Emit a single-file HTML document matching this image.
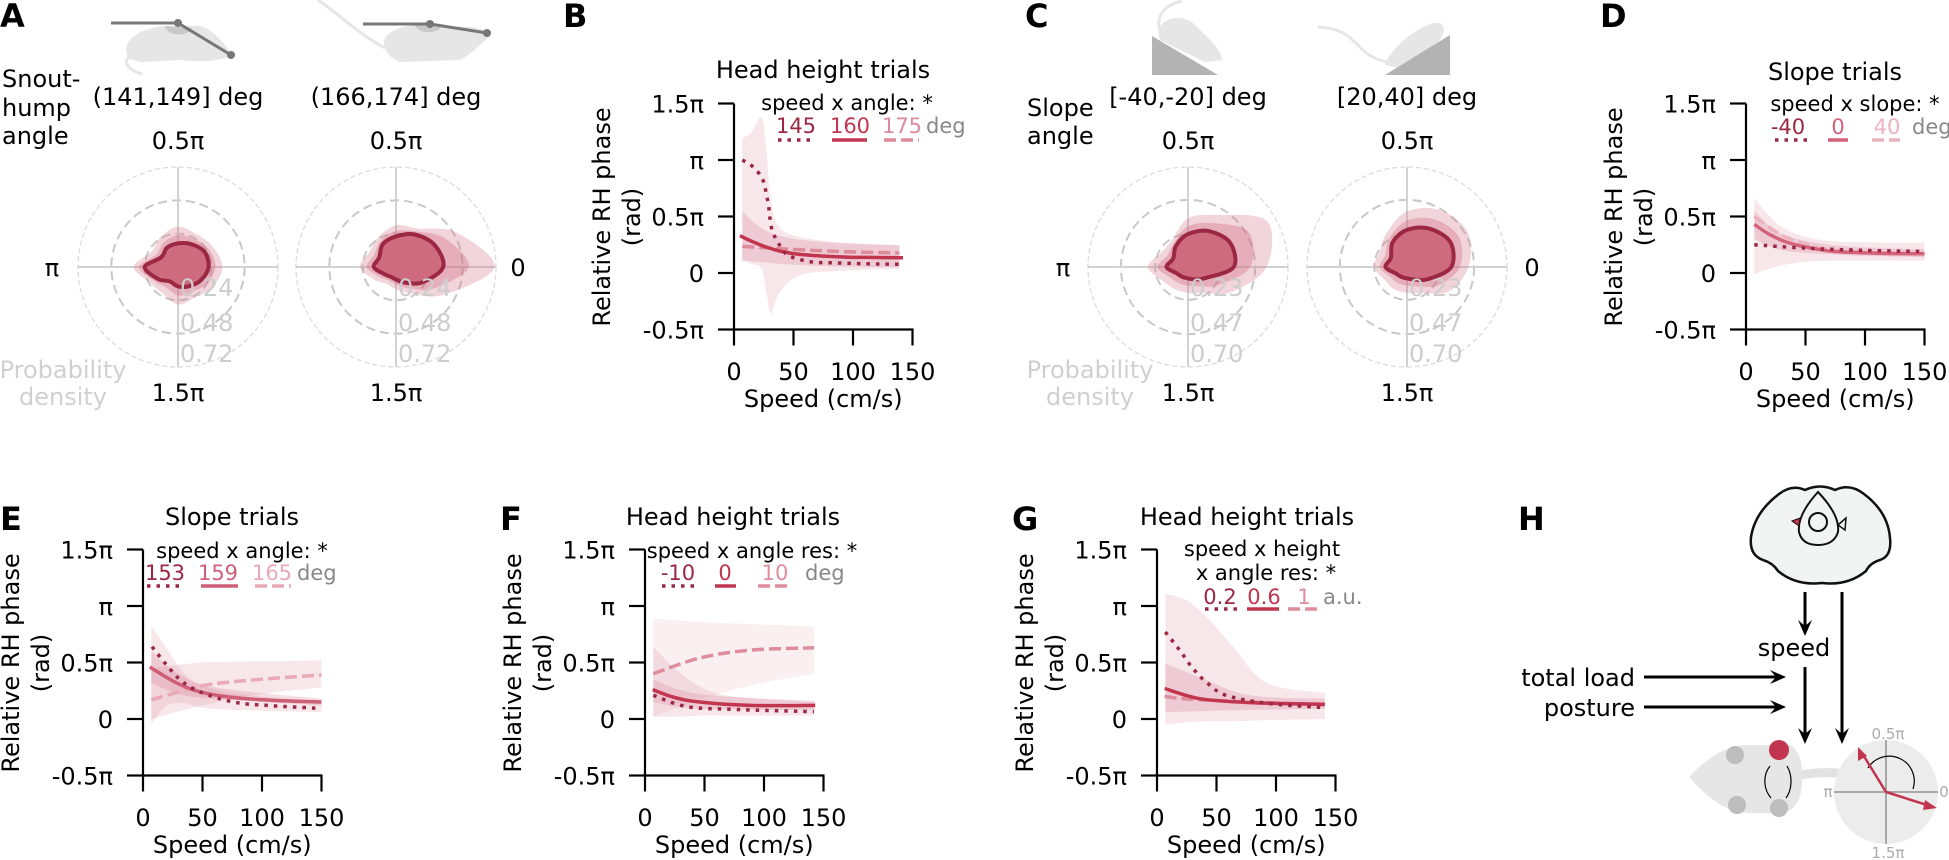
<!DOCTYPE html>
<html><head><meta charset="utf-8"><title>Figure</title>
<style>
html,body{margin:0;padding:0;background:#fff;}
svg{display:block;}
text{font-family:"DejaVu Sans","Liberation Sans",sans-serif;}
.lt{font-size:32px;font-weight:bold;}
.t24{font-size:24px;}
.t20{font-size:21px;}
</style></head>
<body>
<svg id="fig" width="1949" height="860" viewBox="0 0 1949 860">
<!-- panel letters -->
<text class="lt" x="0" y="27">A</text>
<text class="lt" x="563" y="27">B</text>
<text class="lt" x="1025" y="27">C</text>
<text class="lt" x="1600" y="27">D</text>
<text class="lt" x="0" y="530">E</text>
<text class="lt" x="500" y="530">F</text>
<text class="lt" x="1012" y="530">G</text>
<text class="lt" x="1518" y="530">H</text>

<!-- Panel A header -->
<g>
<path d="M128,58 C120,40 140,28 165,26 L200,26 C215,30 225,45 232,55 C220,62 200,62 180,60 L140,62 Z" fill="#e6e6e6"/>
<path d="M130,56 C122,62 128,70 142,74" stroke="#e6e6e6" stroke-width="3" fill="none"/>
<path d="M165,26 A14,10 0 0 0 192,28 Z" fill="#c8c8c8"/>
<polyline points="111,23 178,23 231,55" fill="none" stroke="#777" stroke-width="3"/>
<circle cx="178" cy="23" r="4" fill="#777"/>
<circle cx="231" cy="55" r="4" fill="#777"/>
<path d="M318,0 C340,15 360,35 385,48" stroke="#e6e6e6" stroke-width="3" fill="none"/>
<path d="M385,48 C380,35 395,27 415,25 L470,27 C480,28 490,32 490,36 C480,45 470,55 460,60 L400,62 C390,58 387,53 385,48 Z" fill="#e6e6e6"/>
<path d="M415,25 A14,9 0 0 0 442,26 Z" fill="#c8c8c8"/>
<polyline points="363,24 430,24 487,33" fill="none" stroke="#777" stroke-width="3"/>
<circle cx="430" cy="24" r="4" fill="#777"/>
<circle cx="487" cy="33" r="4" fill="#777"/>
<text class="t24" x="2" y="87">Snout-</text>
<text class="t24" x="2" y="116">hump</text>
<text class="t24" x="2" y="144">angle</text>
<text class="t24" x="178" y="105" text-anchor="middle">(141,149] deg</text>
<text class="t24" x="396" y="105" text-anchor="middle">(166,174] deg</text>
<text class="t24" x="63" y="378" text-anchor="middle" fill="#d0d0d0">Probability</text>
<text class="t24" x="63" y="405" text-anchor="middle" fill="#d0d0d0">density</text>
<text class="t24" x="52" y="276" text-anchor="middle">π</text>
<text class="t24" x="518" y="276" text-anchor="middle">0</text>
</g>

<!-- Panel C header -->
<g>
<path d="M1158,30 C1165,15 1185,15 1195,25 C1210,40 1222,50 1222,60 L1205,62 C1190,55 1170,45 1160,40 Z" fill="#e6e6e6"/>
<path d="M1160,32 C1155,15 1165,5 1182,1" stroke="#e6e6e6" stroke-width="3" fill="none"/>
<polygon points="1152,36 1152,75 1218,75" fill="#b3b3b3"/>
<path d="M1385,65 C1390,50 1410,32 1430,24 C1440,20 1446,25 1443,33 C1440,45 1425,55 1400,68 Z" fill="#e6e6e6"/>
<path d="M1318,27 C1345,28 1352,40 1365,52 C1375,60 1385,62 1392,63" stroke="#e6e6e6" stroke-width="3" fill="none"/>
<polygon points="1385,75 1450,75 1450,35" fill="#b3b3b3"/>
<text class="t24" x="1027" y="116">Slope</text>
<text class="t24" x="1027" y="144">angle</text>
<text class="t24" x="1188" y="105" text-anchor="middle">[-40,-20] deg</text>
<text class="t24" x="1407" y="105" text-anchor="middle">[20,40] deg</text>
<text class="t24" x="1090" y="378" text-anchor="middle" fill="#d0d0d0">Probability</text>
<text class="t24" x="1090" y="405" text-anchor="middle" fill="#d0d0d0">density</text>
<text class="t24" x="1063" y="276" text-anchor="middle">π</text>
<text class="t24" x="1532" y="276" text-anchor="middle">0</text>
</g>

<!-- Line chart titles & legends -->
<g>
<text class="t24" x="823" y="78" text-anchor="middle">Head height trials</text>
<text class="t20" x="847" y="110" text-anchor="middle">speed x angle: *</text>
<text class="t20" x="796" y="133" text-anchor="middle" fill="#9b2743">145</text>
<text class="t20" x="850" y="133" text-anchor="middle" fill="#c1354f">160</text>
<text class="t20" x="902" y="133" text-anchor="middle" fill="#dd8a9a">175</text>
<text class="t20" x="926" y="133" fill="#888">deg</text>
<line x1="778" y1="140" x2="816" y2="140" stroke="#9b2743" stroke-width="3.5" stroke-dasharray="3.5,6"/>
<line x1="832" y1="140" x2="867" y2="140" stroke="#c1354f" stroke-width="3.5"/>
<line x1="884" y1="140" x2="919" y2="140" stroke="#dd8a9a" stroke-width="3.5" stroke-dasharray="12,5"/>
</g>
<g>
<text class="t24" x="1835" y="80" text-anchor="middle">Slope trials</text>
<text class="t20" x="1855" y="111" text-anchor="middle">speed x slope: *</text>
<text class="t20" x="1788" y="134" text-anchor="middle" fill="#9b2743">-40</text>
<text class="t20" x="1838" y="134" text-anchor="middle" fill="#d4637a">0</text>
<text class="t20" x="1887" y="134" text-anchor="middle" fill="#ecb3be">40</text>
<text class="t20" x="1912" y="134" fill="#888">deg</text>
<line x1="1775" y1="140" x2="1808" y2="140" stroke="#9b2743" stroke-width="3.5" stroke-dasharray="3.5,6"/>
<line x1="1828" y1="140" x2="1848" y2="140" stroke="#d4637a" stroke-width="3.5"/>
<line x1="1872" y1="140" x2="1900" y2="140" stroke="#ecb3be" stroke-width="3.5" stroke-dasharray="12,5"/>
</g>
<g>
<text class="t24" x="232" y="525" text-anchor="middle">Slope trials</text>
<text class="t20" x="242" y="558" text-anchor="middle">speed x angle: *</text>
<text class="t20" x="165" y="580" text-anchor="middle" fill="#9b2743">153</text>
<text class="t20" x="218" y="580" text-anchor="middle" fill="#cf5f77">159</text>
<text class="t20" x="272" y="580" text-anchor="middle" fill="#e9aab6">165</text>
<text class="t20" x="297" y="580" fill="#888">deg</text>
<line x1="147" y1="586" x2="184" y2="586" stroke="#9b2743" stroke-width="3.5" stroke-dasharray="3.5,6"/>
<line x1="201" y1="586" x2="238" y2="586" stroke="#cf5f77" stroke-width="3.5"/>
<line x1="255" y1="586" x2="291" y2="586" stroke="#e9aab6" stroke-width="3.5" stroke-dasharray="12,5"/>
</g>
<g>
<text class="t24" x="733" y="525" text-anchor="middle">Head height trials</text>
<text class="t20" x="752" y="558" text-anchor="middle">speed x angle res: *</text>
<text class="t20" x="678" y="580" text-anchor="middle" fill="#9b2743">-10</text>
<text class="t20" x="725" y="580" text-anchor="middle" fill="#c1354f">0</text>
<text class="t20" x="775" y="580" text-anchor="middle" fill="#df8d9c">10</text>
<text class="t20" x="805" y="580" fill="#888">deg</text>
<line x1="662" y1="586" x2="697" y2="586" stroke="#9b2743" stroke-width="3.5" stroke-dasharray="3.5,6"/>
<line x1="715" y1="586" x2="736" y2="586" stroke="#c1354f" stroke-width="3.5"/>
<line x1="758" y1="586" x2="790" y2="586" stroke="#df8d9c" stroke-width="3.5" stroke-dasharray="12,5"/>
</g>
<g>
<text class="t24" x="1247" y="525" text-anchor="middle">Head height trials</text>
<text class="t20" x="1262" y="556" text-anchor="middle">speed x height</text>
<text class="t20" x="1266" y="580" text-anchor="middle">x angle res: *</text>
<text class="t20" x="1220" y="604" text-anchor="middle" fill="#9b2743">0.2</text>
<text class="t20" x="1264" y="604" text-anchor="middle" fill="#c1354f">0.6</text>
<text class="t20" x="1304" y="604" text-anchor="middle" fill="#df8d9c">1</text>
<text class="t20" x="1323" y="604" fill="#888">a.u.</text>
<line x1="1205" y1="609" x2="1240" y2="609" stroke="#9b2743" stroke-width="3.5" stroke-dasharray="3.5,6"/>
<line x1="1247" y1="609" x2="1279" y2="609" stroke="#c1354f" stroke-width="3.5"/>
<line x1="1288" y1="609" x2="1317" y2="609" stroke="#df8d9c" stroke-width="3.5" stroke-dasharray="12,5"/>
</g>

<!-- Panel H schematic -->
<g>
<path d="M1805,490 Q1820,483 1835,490 Q1850,483 1864,494 Q1888,512 1890,538 Q1892,556 1880,560 Q1870,563 1866,571 Q1848,586 1822,583 Q1796,586 1778,571 Q1773,563 1763,560 Q1749,555 1751,537 Q1755,512 1779,494 Q1792,484 1805,490 Z" fill="#f2f4f3" stroke="#111" stroke-width="2.5"/>
<path d="M1818,492 Q1840,515 1838,532 Q1834,545 1818,545 Q1802,545 1799,532 Q1797,515 1818,492 Z" fill="none" stroke="#111" stroke-width="2"/>
<ellipse cx="1818" cy="522" rx="9" ry="9" fill="none" stroke="#111" stroke-width="2"/>
<path d="M1792,521 L1800,518 L1799,526 Z" fill="#c1354f" stroke="#111" stroke-width="1"/>
<path d="M1846,518 L1838,525 L1845,530 Z" fill="none" stroke="#111" stroke-width="1.5"/>
<line x1="1805" y1="592" x2="1805" y2="630" stroke="#000" stroke-width="3"/>
<path d="M1798,620 L1805,636 L1812,620 L1805,626 Z" fill="#000"/>
<text class="t24" x="1794" y="656" text-anchor="middle">speed</text>
<line x1="1805" y1="667" x2="1805" y2="738" stroke="#000" stroke-width="3"/>
<path d="M1798,728 L1805,744 L1812,728 L1805,734 Z" fill="#000"/>
<line x1="1842" y1="592" x2="1842" y2="738" stroke="#000" stroke-width="3"/>
<path d="M1835,728 L1842,744 L1849,728 L1842,734 Z" fill="#000"/>
<text class="t24" x="1635" y="686" text-anchor="end">total load</text>
<line x1="1644" y1="677" x2="1780" y2="677" stroke="#000" stroke-width="3"/>
<path d="M1770,670 L1786,677 L1770,684 L1776,677 Z" fill="#000"/>
<text class="t24" x="1635" y="716" text-anchor="end">posture</text>
<line x1="1644" y1="707" x2="1780" y2="707" stroke="#000" stroke-width="3"/>
<path d="M1770,700 L1786,707 L1770,714 L1776,707 Z" fill="#000"/>
<path d="M1800,775 C1830,770 1860,772 1884,790" stroke="#e2e2e2" stroke-width="9" fill="none"/>
<path d="M1689,777 C1705,760 1722,747 1745,745 L1790,745 C1800,750 1803,765 1802,780 C1802,800 1795,812 1780,813 L1745,813 C1722,810 1705,795 1689,777 Z" fill="#e6e6e6"/>
<circle cx="1735" cy="755" r="9" fill="#bdbdbd"/>
<circle cx="1737" cy="805" r="9" fill="#bdbdbd"/>
<circle cx="1779" cy="808" r="9" fill="#bdbdbd"/>
<circle cx="1779" cy="750" r="10" fill="#c1354f"/>
<path d="M1770,766 C1762,776 1764,790 1771,798" stroke="#000" stroke-width="1.2" fill="none"/>
<path d="M1787,766 C1793,776 1792,790 1786,798" stroke="#000" stroke-width="1.2" fill="none"/>
<circle cx="1886" cy="792" r="52" fill="#ececec"/>
<line x1="1834" y1="792" x2="1938" y2="792" stroke="#a8a8a8" stroke-width="2"/>
<line x1="1886" y1="740" x2="1886" y2="844" stroke="#a8a8a8" stroke-width="2"/>
<text x="1888" y="739" font-size="15" text-anchor="middle" fill="#aaa">0.5π</text>
<text x="1888" y="858" font-size="15" text-anchor="middle" fill="#aaa">1.5π</text>
<text x="1828" y="797" font-size="15" text-anchor="middle" fill="#aaa">π</text>
<text x="1944" y="797" font-size="15" text-anchor="middle" fill="#aaa">0</text>
<path d="M1868,768 A25,25 0 0 1 1913,789" stroke="#000" stroke-width="1.2" fill="none"/>
<line x1="1886" y1="792" x2="1862" y2="753" stroke="#c1354f" stroke-width="2.5"/>
<path d="M1858,747 L1858,761 L1867,756 Z" fill="#c1354f"/>
<line x1="1886" y1="792" x2="1930" y2="806" stroke="#c1354f" stroke-width="2.5"/>
<path d="M1937,808 L1925,800 L1923,810 Z" fill="#c1354f"/>
</g>
<g id="plots"></g>
</svg>

<script>
// ---------- Data: polar densities (12 angles, radians step 30 deg) ----------
const polarAngles = [0,30,60,90,120,150,180,210,240,270,300,330];
const a1Contour = [0.22,0.22,0.19,0.17,0.16,0.14,0.24,0.17,0.12,0.14,0.16,0.19];
const a1Haze    = [0.32,0.29,0.27,0.29,0.25,0.22,0.32,0.23,0.22,0.27,0.25,0.29];
const a2Contour = [0.34,0.32,0.27,0.22,0.19,0.14,0.16,0.10,0.08,0.09,0.13,0.22];
const a2Haze    = [0.71,0.50,0.32,0.30,0.25,0.22,0.26,0.18,0.14,0.16,0.22,0.40];
const c1Contour = [0.32,0.34,0.29,0.23,0.17,0.12,0.15,0.09,0.08,0.08,0.10,0.15];
const c1Haze    = [0.55,0.64,0.42,0.34,0.22,0.21,0.28,0.20,0.18,0.18,0.21,0.35];
const c2Contour = [0.31,0.35,0.31,0.26,0.20,0.13,0.15,0.09,0.08,0.08,0.10,0.17];
const c2Haze    = [0.43,0.49,0.46,0.39,0.28,0.22,0.23,0.18,0.18,0.18,0.21,0.34];
const aRadTicks = [0.24,0.48,0.72];
const cRadTicks = [0.23,0.47,0.70];
const aRadLabels = ['0.24','0.48','0.72'];
const cRadLabels = ['0.23','0.47','0.70'];

// ---------- Data: line charts (speed cm/s, phase in units of pi) ----------
const xTickVals = [0,50,100,150];
const xTickLabels = ['0','50','100','150'];
const yTickVals = [1.5,1,0.5,0,-0.5];
const yTickLabels = ['1.5π','π','0.5π','0','-0.5π'];

const bDotX = [7,16,23,26,29,30,32,36,45,64,83,110,139];
const bDotY = [1.0,0.94,0.85,0.76,0.6,0.5,0.38,0.29,0.16,0.1,0.09,0.082,0.077];
const bSolX = [5,15,27,40,55,75,97,120,142];
const bSolY = [0.33,0.28,0.23,0.19,0.165,0.15,0.14,0.137,0.135];
const bDashX = [7,30,55,90,139];
const bDashY = [0.235,0.22,0.206,0.19,0.177];
const bBandAX = [7,15,23,27,31,38,55,90,139];
const bBandAUp = [1.19,1.25,1.38,1.11,0.64,0.41,0.32,0.27,0.245];
const bBandALo = [0.11,0.08,0.04,-0.15,-0.36,-0.18,-0.02,0.02,0.04];
const bBandBX = [7,20,41,80,139];
const bBandBUp = [0.55,0.42,0.32,0.27,0.245];
const bBandBLo = [0.11,0.1,0.08,0.06,0.05];

const dDotX = [7,50,100,150];
const dDotY = [0.25,0.22,0.2,0.19];
const dSolX = [7,20,35,55,75,110,150];
const dSolY = [0.43,0.34,0.27,0.22,0.19,0.175,0.17];
const dDashX = [7,20,35,55,75,110,150];
const dDashY = [0.5,0.4,0.31,0.24,0.2,0.18,0.17];
const dBandAX = [7,20,31,50,74,110,150];
const dBandAUp = [0.66,0.5,0.4,0.32,0.28,0.27,0.27];
const dBandALo = [-0.01,0.04,0.07,0.1,0.11,0.11,0.11];
const dBandBX = [7,31,80,150];
const dBandBUp = [0.55,0.34,0.24,0.21];
const dBandBLo = [0.3,0.2,0.16,0.14];

const eDotX = [7.6,19.7,32,48,76,104,149];
const eDotY = [0.64,0.48,0.34,0.24,0.15,0.12,0.094];
const eSolX = [5.6,28,48,76,110,150];
const eSolY = [0.46,0.32,0.24,0.19,0.165,0.15];
const eDashX = [7,48,76,110,150];
const eDashY = [0.17,0.29,0.33,0.36,0.39];
const eBandAX = [7,20,35,50,80,150];
const eBandAUp = [0.83,0.62,0.4,0.3,0.22,0.16];
const eBandALo = [-0.04,0.12,0.14,0.1,0.08,0.06];
const eBandBX = [7,50,100,150];
const eBandBUp = [0.45,0.5,0.51,0.52];
const eBandBLo = [0.0,0.12,0.22,0.28];
const eBandCX = [7,30,60,150];
const eBandCUp = [0.6,0.4,0.28,0.18];
const eBandCLo = [0.32,0.22,0.18,0.12];

const fDotX = [7,35,74,142];
const fDotY = [0.21,0.11,0.085,0.065];
const fSolX = [6.5,25,46,89,143];
const fSolY = [0.26,0.19,0.15,0.12,0.12];
const fDashX = [7,46,89,142];
const fDashY = [0.4,0.54,0.61,0.63];
const fBandAX = [7,46,90,142];
const fBandAUp = [0.89,0.86,0.84,0.82];
const fBandALo = [0.02,0.17,0.3,0.4];
const fBandBX = [7,24,46,74,142];
const fBandBUp = [0.64,0.46,0.29,0.2,0.15];
const fBandBLo = [0.02,0.02,0.03,0.03,0.03];
const fBandCX = [7,46,143];
const fBandCUp = [0.35,0.22,0.16];
const fBandCLo = [0.15,0.09,0.08];

const gDotX = [7,19,30,42,58,92,141];
const gDotY = [0.77,0.61,0.45,0.32,0.21,0.14,0.1];
const gSolX = [6.5,36,78,141];
const gSolY = [0.27,0.18,0.145,0.13];
const gDashX = [6.5,36,141];
const gDashY = [0.2,0.17,0.125];
const gBandAX = [7,25,42,64,92,141];
const gBandAUp = [1.11,1.05,0.9,0.64,0.32,0.23];
const gBandALo = [-0.05,-0.03,-0.02,-0.02,-0.01,0.0];
const gBandBX = [7,36,78,141];
const gBandBUp = [0.49,0.37,0.21,0.18];
const gBandBLo = [0.06,0.07,0.08,0.09];

// ---------- helpers ----------
const NS = document.getElementById('fig').namespaceURI;
const root = document.getElementById('plots');
function mk(tag, attrs, parent){
  const e = document.createElementNS(NS, tag);
  for (const k in attrs) e.setAttribute(k, attrs[k]);
  parent.appendChild(e);
  return e;
}
function smoothPath(pts, closed){
  const n = pts.length;
  let d = 'M' + pts[0][0].toFixed(1) + ',' + pts[0][1].toFixed(1);
  const last = closed ? n : n - 1;
  for (let i = 0; i < last; i++){
    const g = j => closed ? pts[(j + n) % n] : pts[Math.max(0, Math.min(n - 1, j))];
    const p0 = g(i-1), p1 = g(i), p2 = g(i+1), p3 = g(i+2);
    const c1 = [p1[0] + (p2[0]-p0[0])/6, p1[1] + (p2[1]-p0[1])/6];
    const c2 = [p2[0] - (p3[0]-p1[0])/6, p2[1] - (p3[1]-p1[1])/6];
    d += 'C' + c1[0].toFixed(1)+','+c1[1].toFixed(1)+' '+c2[0].toFixed(1)+','+c2[1].toFixed(1)+' '+p2[0].toFixed(1)+','+p2[1].toFixed(1);
  }
  return d + (closed ? 'Z' : '');
}

// ---------- polar plots ----------
function polar(cx, cy, rMax, ticks, tickLabels, contour, haze, name){
  const g = mk('g', {}, root);
  
  
  const rs = v => v / ticks[2] * rMax;
  const pt = (v, a) => [cx + rs(v) * Math.cos(a*Math.PI/180), cy - rs(v) * Math.sin(a*Math.PI/180)];
  const outer = mk('circle', {cx:cx, cy:cy, r:rs(ticks[2]), fill:'none', stroke:'#dcdcdc', 'stroke-width':1.3, 'stroke-dasharray':'5,3'}, g);
  
  
  for (let i = 0; i < 2; i++){
    const c = mk('circle', {cx:cx, cy:cy, r:rs(ticks[i]), fill:'none', stroke:'#c8c8c8', 'stroke-width':2, 'stroke-dasharray':'9,5'}, g);
    
    
  }
  const h = mk('line', {x1:cx-rMax, y1:cy, x2:cx+rMax, y2:cy, stroke:'#d2d2d2', 'stroke-width':2}, g);
  
  
  const v = mk('line', {x1:cx, y1:cy-rMax, x2:cx, y2:cy+rMax, stroke:'#d2d2d2', 'stroke-width':2}, g);
  
  
  const hz = mk('path', {d:smoothPath(haze.map((r,i)=>pt(r, polarAngles[i])), true), fill:'rgba(214,120,142,0.32)'}, g);
  
  
  const mid = mk('path', {d:smoothPath(haze.map((r,i)=>pt((r+contour[i])/2, polarAngles[i])), true), fill:'rgba(208,100,125,0.35)'}, g);
  
  
  const ct = mk('path', {d:smoothPath(contour.map((r,i)=>pt(r, polarAngles[i])), true), fill:'#cf6b7f', stroke:'#9b2743', 'stroke-width':4}, g);
  
  
  const offs = [20, 55, 86];
  for (let i = 0; i < 3; i++){
    const t = mk('text', {x:cx+2, y:cy+offs[i]+9, fill:'#cdcdcd', 'font-size':24}, g);
    t.textContent = tickLabels[i];
    
    
  }
  const t1 = mk('text', {x:cx, y:cy-118, 'font-size':24, 'text-anchor':'middle'}, g);
  t1.textContent = '0.5π';
  
  
  const t2 = mk('text', {x:cx, y:cy+134, 'font-size':24, 'text-anchor':'middle'}, g);
  t2.textContent = '1.5π';
  
  
}
polar(178, 267, 100, aRadTicks, aRadLabels, a1Contour, a1Haze, 'polar-a-141-149');
polar(396, 267, 100, aRadTicks, aRadLabels, a2Contour, a2Haze, 'polar-a-166-174');
polar(1188, 267, 100, cRadTicks, cRadLabels, c1Contour, c1Haze, 'polar-c-neg40-neg20');
polar(1407, 267, 100, cRadTicks, cRadLabels, c2Contour, c2Haze, 'polar-c-20-40');

// ---------- line charts ----------
const PI_PX = 113;
const KX = 178.5 / 150;
function chart(name, x0, y0, bands, series){
  const g = mk('g', {}, root);
  
  
  const xs = v => x0 + v * KX;
  const ys = v => y0 - v * PI_PX;
  bands.forEach(b => {
    const up = b.x.map((x,i)=>[xs(x), ys(b.up[i])]);
    const lo = b.x.map((x,i)=>[xs(x), ys(b.lo[i])]).reverse();
    let d = smoothPath(up, false);
    d += smoothPath(lo, false).replace('M','L') + 'Z';
    const p = mk('path', {d:d, fill:b.fill}, g);
    
    
  });
  series.forEach(s => {
    const pts = s.x.map((x,i)=>[xs(x), ys(s.y[i])]);
    const attrs = {d:smoothPath(pts, false), fill:'none', stroke:s.color, 'stroke-width':3.5};
    if (s.dash) attrs['stroke-dasharray'] = s.dash;
    const p = mk('path', attrs, g);
    
    
  });
  const ya = mk('line', {x1:x0, y1:ys(1.5), x2:x0, y2:ys(-0.5)+1, stroke:'#000', 'stroke-width':2.2}, g);
  
  
  const xa = mk('line', {x1:x0-1, y1:ys(-0.5), x2:xs(150)+1, y2:ys(-0.5), stroke:'#000', 'stroke-width':2.2}, g);
  
  
  yTickVals.forEach((v,i) => {
    const tk = mk('line', {x1:x0-16, y1:ys(v), x2:x0, y2:ys(v), stroke:'#000', 'stroke-width':2.2}, g);
    
    
    const tl = mk('text', {x:x0-30, y:ys(v)+9, 'font-size':24, 'text-anchor':'end'}, g);
    tl.textContent = yTickLabels[i];
    
    
  });
  xTickVals.forEach((v,i) => {
    const tk = mk('line', {x1:xs(v), y1:ys(-0.5), x2:xs(v), y2:ys(-0.5)+16, stroke:'#000', 'stroke-width':2.2}, g);
    
    
    const tl = mk('text', {x:xs(v), y:y0+107, 'font-size':24, 'text-anchor':'middle'}, g);
    tl.textContent = xTickLabels[i];
    
    
  });
  const xt = mk('text', {x:xs(75), y:y0+134, 'font-size':24, 'text-anchor':'middle'}, g);
  xt.textContent = 'Speed (cm/s)';
  
  
  const yt1 = mk('text', {x:0, y:0, 'font-size':24, 'text-anchor':'middle', transform:'translate('+(x0-124)+','+(y0-56)+') rotate(-90)'}, g);
  yt1.textContent = 'Relative RH phase';
  
  
  const yt2 = mk('text', {x:0, y:0, 'font-size':24, 'text-anchor':'middle', transform:'translate('+(x0-94)+','+(y0-56)+') rotate(-90)'}, g);
  yt2.textContent = '(rad)';
  
  
}
const BAND1 = 'rgba(222,150,168,0.24)';
const BAND2 = 'rgba(210,110,135,0.22)';
const DOT = '3.5,6';
const DASH = '12,5';
chart('chart-b-head-height', 734, 273,
  [{x:bBandAX, up:bBandAUp, lo:bBandALo, fill:BAND1},{x:bBandBX, up:bBandBUp, lo:bBandBLo, fill:BAND2}],
  [{x:bDashX, y:bDashY, color:'#dd8a9a', dash:DASH, name:'line-175-deg'},
   {x:bSolX, y:bSolY, color:'#c1354f', name:'line-160-deg'},
   {x:bDotX, y:bDotY, color:'#9b2743', dash:DOT, name:'line-145-deg'}]);
chart('chart-d-slope', 1746, 273,
  [{x:dBandAX, up:dBandAUp, lo:dBandALo, fill:BAND1},{x:dBandBX, up:dBandBUp, lo:dBandBLo, fill:BAND2}],
  [{x:dDashX, y:dDashY, color:'#ecb3be', dash:DASH, name:'line-40-deg'},
   {x:dSolX, y:dSolY, color:'#d4637a', name:'line-0-deg'},
   {x:dDotX, y:dDotY, color:'#9b2743', dash:DOT, name:'line-neg40-deg'}]);
chart('chart-e-slope', 143, 719,
  [{x:eBandAX, up:eBandAUp, lo:eBandALo, fill:BAND1},{x:eBandBX, up:eBandBUp, lo:eBandBLo, fill:BAND1},{x:eBandCX, up:eBandCUp, lo:eBandCLo, fill:BAND2}],
  [{x:eDashX, y:eDashY, color:'#e9aab6', dash:DASH, name:'line-165-deg'},
   {x:eSolX, y:eSolY, color:'#cf5f77', name:'line-159-deg'},
   {x:eDotX, y:eDotY, color:'#9b2743', dash:DOT, name:'line-153-deg'}]);
chart('chart-f-head-height', 645, 719,
  [{x:fBandAX, up:fBandAUp, lo:fBandALo, fill:'rgba(230,170,185,0.18)'},{x:fBandBX, up:fBandBUp, lo:fBandBLo, fill:BAND1},{x:fBandCX, up:fBandCUp, lo:fBandCLo, fill:BAND2}],
  [{x:fDashX, y:fDashY, color:'#df8d9c', dash:DASH, name:'line-10-deg'},
   {x:fSolX, y:fSolY, color:'#c1354f', name:'line-0-deg'},
   {x:fDotX, y:fDotY, color:'#9b2743', dash:DOT, name:'line-neg10-deg'}]);
chart('chart-g-head-height', 1157, 719,
  [{x:gBandAX, up:gBandAUp, lo:gBandALo, fill:BAND1},{x:gBandBX, up:gBandBUp, lo:gBandBLo, fill:BAND2}],
  [{x:gDashX, y:gDashY, color:'#df8d9c', dash:DASH, name:'line-height-1'},
   {x:gSolX, y:gSolY, color:'#c1354f', name:'line-height-0-6'},
   {x:gDotX, y:gDotY, color:'#9b2743', dash:DOT, name:'line-height-0-2'}]);
</script>
</body></html>
